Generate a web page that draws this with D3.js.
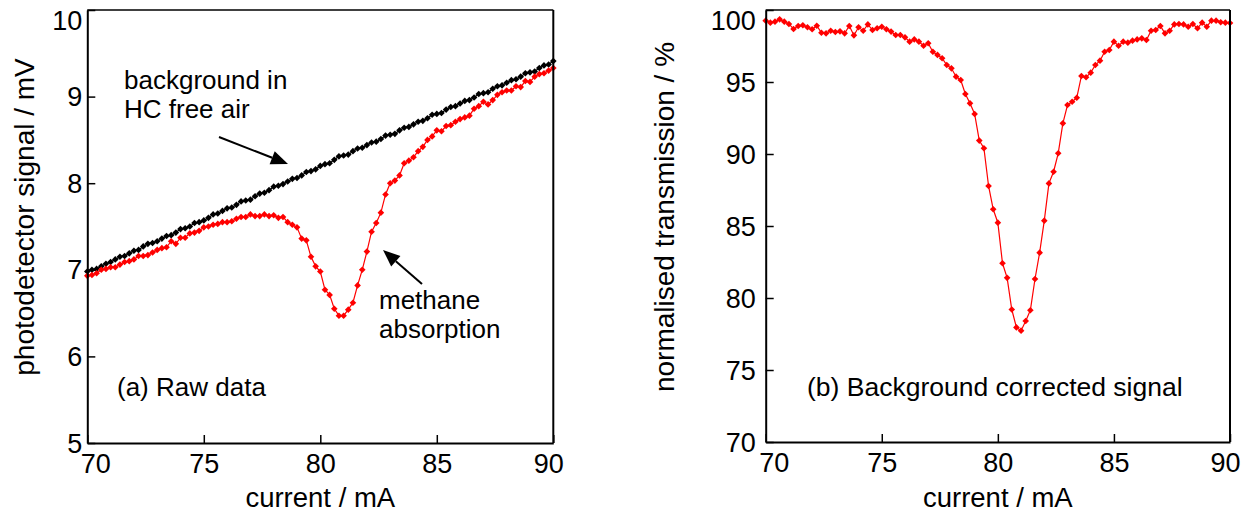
<!DOCTYPE html>
<html>
<head>
<meta charset="utf-8">
<script src="https://cdn.jsdelivr.net/npm/d3@7"></script>
<style>
  body { margin: 0; background: #fff; }
  svg text { font-family: "Liberation Sans", Arial, sans-serif; fill: #000; }
</style>
</head>
<body>
<svg id="chart" width="1250" height="516"></svg>
<script>
// laser current sweep (mA)
const current = [
  70.0, 70.2, 70.4, 70.6, 70.8, 71.0, 71.2, 71.4, 71.6, 71.8,
  72.0, 72.2, 72.4, 72.6, 72.8, 73.0, 73.2, 73.4, 73.6, 73.8,
  74.0, 74.2, 74.4, 74.6, 74.8, 75.0, 75.2, 75.4, 75.6, 75.8,
  76.0, 76.2, 76.4, 76.6, 76.8, 77.0, 77.2, 77.4, 77.6, 77.8,
  78.0, 78.2, 78.4, 78.6, 78.8, 79.0, 79.2, 79.4, 79.6, 79.8,
  80.0, 80.2, 80.4, 80.6, 80.8, 81.0, 81.2, 81.4, 81.6, 81.8,
  82.0, 82.2, 82.4, 82.6, 82.8, 83.0, 83.2, 83.4, 83.6, 83.8,
  84.0, 84.2, 84.4, 84.6, 84.8, 85.0, 85.2, 85.4, 85.6, 85.8,
  86.0, 86.2, 86.4, 86.6, 86.8, 87.0, 87.2, 87.4, 87.6, 87.8,
  88.0, 88.2, 88.4, 88.6, 88.8, 89.0, 89.2, 89.4, 89.6, 89.8,
  90.0
];

// (a) background signal in HC free air (mV)
const background = [
  6.98, 7.00, 7.01, 7.04, 7.07, 7.09, 7.12, 7.15, 7.16, 7.19,
  7.22, 7.23, 7.27, 7.30, 7.31, 7.33, 7.36, 7.39, 7.40, 7.43,
  7.47, 7.48, 7.50, 7.54, 7.55, 7.57, 7.60, 7.64, 7.65, 7.68,
  7.71, 7.72, 7.75, 7.79, 7.80, 7.81, 7.85, 7.88, 7.89, 7.92,
  7.96, 7.97, 7.99, 8.02, 8.05, 8.06, 8.09, 8.13, 8.14, 8.16,
  8.20, 8.22, 8.23, 8.27, 8.31, 8.32, 8.33, 8.37, 8.40, 8.41,
  8.44, 8.47, 8.48, 8.51, 8.55, 8.56, 8.57, 8.61, 8.64, 8.65,
  8.68, 8.71, 8.72, 8.75, 8.79, 8.80, 8.81, 8.85, 8.88, 8.89,
  8.92, 8.95, 8.96, 8.99, 9.03, 9.04, 9.05, 9.09, 9.12, 9.13,
  9.16, 9.19, 9.20, 9.23, 9.27, 9.28, 9.29, 9.33, 9.36, 9.37,
  9.41
];

// (a) signal with methane (mV)
const methane = [
  6.93, 6.94, 6.96, 7.00, 7.01, 7.03, 7.03, 7.06, 7.09, 7.10,
  7.12, 7.16, 7.16, 7.17, 7.20, 7.23, 7.25, 7.26, 7.33, 7.30,
  7.37, 7.37, 7.42, 7.43, 7.45, 7.49, 7.50, 7.52, 7.53, 7.55,
  7.55, 7.56, 7.59, 7.61, 7.61, 7.64, 7.62, 7.62, 7.64, 7.62,
  7.63, 7.60, 7.61, 7.55, 7.52, 7.49, 7.36, 7.34, 7.15, 7.04,
  6.98, 6.77, 6.71, 6.55, 6.47, 6.47, 6.54, 6.62, 6.82, 7.00,
  7.21, 7.44, 7.54, 7.66, 7.87, 8.00, 8.03, 8.09, 8.23, 8.26,
  8.30, 8.37, 8.42, 8.50, 8.54, 8.61, 8.60, 8.66, 8.67, 8.71,
  8.74, 8.76, 8.78, 8.86, 8.89, 8.94, 8.91, 8.96, 9.02, 9.05,
  9.07, 9.07, 9.12, 9.11, 9.18, 9.17, 9.23, 9.26, 9.27, 9.30,
  9.33
];

// (b) normalised transmission (%)
const transmission = [
  99.26, 99.12, 99.19, 99.35, 99.19, 99.03, 98.68, 98.89, 98.94, 98.80,
  98.66, 98.91, 98.42, 98.38, 98.56, 98.47, 98.52, 98.38, 98.89, 98.24,
  98.80, 98.56, 99.00, 98.61, 98.73, 98.84, 98.66, 98.50, 98.26, 98.26,
  98.10, 97.80, 97.96, 97.80, 97.52, 97.69, 97.10, 96.88, 96.65, 96.18,
  95.95, 95.37, 95.14, 94.17, 93.52, 92.78, 90.93, 90.40, 87.78, 86.16,
  85.23, 82.41, 81.40, 79.20, 77.96, 77.73, 78.40, 79.15, 81.32, 83.15,
  85.37, 87.96, 88.77, 90.05, 92.13, 93.40, 93.63, 93.91, 95.42, 95.33,
  95.65, 96.18, 96.48, 97.10, 97.22, 97.80, 97.52, 97.80, 97.73, 97.87,
  97.96, 98.03, 97.92, 98.56, 98.61, 98.89, 98.38, 98.56, 99.00, 99.03,
  99.00, 98.84, 99.03, 98.73, 99.12, 98.84, 99.26, 99.26, 99.15, 99.12,
  99.10
];

const xTicks = [70, 75, 80, 85, 90];
const yTicksA = [5, 6, 7, 8, 9, 10];
const yTicksB = [70, 75, 80, 85, 90, 95, 100];

const svg = d3.select('#chart');
svg.append('rect').attr('width', 1250).attr('height', 516).attr('fill', '#fff');

const FONT = 26;       // annotations
const TICK_FONT = 27;
const TITLE_FONT = 27.5;
const diamond = d3.symbol().type(d3.symbolDiamond2).size(28);

function drawPanel(opts) {
  const { x, y, xTickVals, yTickVals, yPad, series } = opts;
  const g = svg.append('g');
  const [x0, x1] = x.range();
  const [y0, y1] = y.range();

  // data lines and markers
  series.forEach(s => {
    const pts = current.map((c, i) => [x(c), y(s.values[i])]);
    g.append('path')
      .attr('d', d3.line()(pts))
      .attr('fill', 'none')
      .attr('stroke', s.color)
      .attr('stroke-width', 1.2);
    g.selectAll(null)
      .data(pts)
      .join('path')
      .attr('d', diamond)
      .attr('transform', d => `translate(${d[0]},${d[1]})`)
      .attr('fill', s.color);
  });

  // frame
  g.append('line').attr('x1', x0).attr('x2', x1).attr('y1', y1).attr('y2', y1)
    .attr('stroke', '#000').attr('stroke-width', 1.3);
  g.append('line').attr('x1', x1).attr('x2', x1).attr('y1', y1).attr('y2', y0)
    .attr('stroke', '#000').attr('stroke-width', 2);

  // y axis, ticks pointing inward
  const ya = g.append('g')
    .attr('transform', `translate(${x0},0)`)
    .call(d3.axisLeft(y).tickValues(yTickVals).tickFormat(d3.format('d'))
      .tickSize(-8).tickSizeOuter(0).tickPadding(yPad));
  ya.select('.domain').attr('stroke-width', 2);
  ya.selectAll('.tick line').attr('stroke-width', 1.5);
  ya.selectAll('.tick text')
    .attr('font-size', TICK_FONT)
    .attr('font-family', '"Liberation Sans", Arial, sans-serif')
    .attr('dy', (d, i) => i === yTickVals.length - 1 ? '0.72em' : '0.34em');

  // x axis, ticks pointing inward
  const xa = g.append('g')
    .attr('transform', `translate(0,${y0})`)
    .call(d3.axisBottom(x).tickValues(xTickVals).tickFormat(d3.format('d'))
      .tickSize(-8).tickSizeOuter(0).tickPadding(11));
  xa.select('.domain').attr('stroke-width', 2);
  xa.selectAll('.tick line').attr('stroke-width', 1.5);
  xa.selectAll('.tick text')
    .attr('font-size', TICK_FONT)
    .attr('font-family', '"Liberation Sans", Arial, sans-serif')
    .attr('dx', (d, i) => i === 0 ? 8 : (i === xTickVals.length - 1 ? -5 : 0));

  g.append('text')
    .attr('x', (x0 + x1) / 2)
    .attr('y', 507)
    .attr('text-anchor', 'middle')
    .attr('font-size', TITLE_FONT)
    .text(opts.xTitle);

  g.append('text')
    .attr('transform', `translate(${opts.yTitleX},${opts.yTitleY}) rotate(-90)`)
    .attr('text-anchor', 'middle')
    .attr('font-size', 28)
    .text(opts.yTitle);

  return g;
}

const xA = d3.scaleLinear().domain([70, 90]).range([87.3, 553.3]);
const yA = d3.scaleLinear().domain([5, 10]).range([443, 10]);
const xB = d3.scaleLinear().domain([70, 90]).range([765.7, 1230]);
const yB = d3.scaleLinear().domain([70, 100]).range([442, 10]);

const gA = drawPanel({
  x: xA, y: yA, xTickVals: xTicks, yTickVals: yTicksA, yPad: 5,
  series: [
    { values: background, color: '#000' },
    { values: methane, color: '#ff0000' }
  ],
  xTitle: 'current / mA',
  yTitle: 'photodetector signal / mV', yTitleX: 34, yTitleY: 217
});

const gB = drawPanel({
  x: xB, y: yB, xTickVals: xTicks, yTickVals: yTicksB, yPad: 10,
  series: [
    { values: transmission, color: '#ff0000' }
  ],
  xTitle: 'current / mA',
  yTitle: 'normalised transmission / %', yTitleX: 674, yTitleY: 217
});

// annotations
function arrow(g, from, to) {
  const ang = Math.atan2(to[1] - from[1], to[0] - from[0]);
  const len = 17, hw = 7;
  const bx = to[0] - len * Math.cos(ang), by = to[1] - len * Math.sin(ang);
  g.append('line')
    .attr('x1', from[0]).attr('y1', from[1]).attr('x2', bx).attr('y2', by)
    .attr('stroke', '#000').attr('stroke-width', 2);
  g.append('path')
    .attr('d', `M${to[0]},${to[1]}L${bx - hw * Math.sin(ang)},${by + hw * Math.cos(ang)}L${bx + hw * Math.sin(ang)},${by - hw * Math.cos(ang)}Z`)
    .attr('fill', '#000');
}

function label(g, lines, x, y, lh, size) {
  const t = g.append('text').attr('font-size', size || FONT);
  lines.forEach((s, i) => t.append('tspan').attr('x', x).attr('y', y + i * lh).text(s));
}

label(gA, ['background in', 'HC free air'], 124, 89, 29);
arrow(gA, [219, 137], [288, 164]);
label(gA, ['methane', 'absorption'], 379, 309, 29);
arrow(gA, [422, 284], [383, 250]);
label(gA, ['(a) Raw data'], 117, 396, 29);
label(gB, ['(b) Background corrected signal'], 807, 396, 29, 26.5);
</script>
</body>
</html>
